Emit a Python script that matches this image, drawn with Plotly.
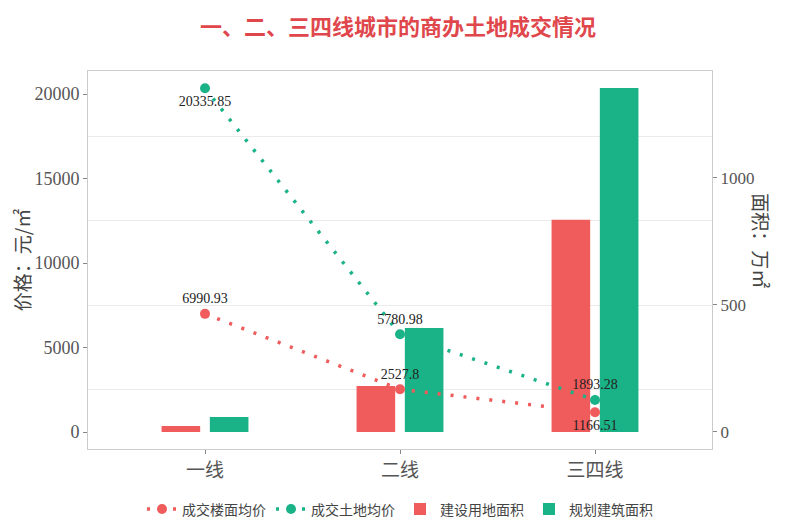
import plotly.graph_objects as go

# city tiers
cities = ["一线", "二线", "三四线"]

# price series (元/㎡), left axis
floor_price = [6990.93, 2527.8, 1166.51]
land_price = [20335.85, 5780.98, 1893.28]

# area series (万㎡), right axis
land_area = [24, 181, 835]
build_area = [59, 409, 1354]

price_ticks = [0, 5000, 10000, 15000, 20000]
area_ticks = [0, 500, 1000]

red = "#F05B5B"
green = "#1AB287"
serif = "Liberation Serif"
cjk = "Noto Sans CJK SC"

fig = go.Figure()

fig.add_trace(go.Scatter(
    x=cities, y=floor_price, name="成交楼面均价", yaxis="y2",
    mode="lines+markers+text",
    line=dict(color=red, width=3.5, dash="3px,10px"),
    marker=dict(color=red, size=10),
    text=[str(v) for v in floor_price],
    textposition=["top center", "top center", "bottom center"],
    textfont=dict(family=serif, size=14, color="#222222"),
))
fig.add_trace(go.Scatter(
    x=cities, y=land_price, name="成交土地均价", yaxis="y2",
    mode="lines+markers+text",
    line=dict(color=green, width=3.5, dash="3px,10px"),
    marker=dict(color=green, size=10),
    text=[str(v) for v in land_price],
    textposition=["bottom center", "top center", "top center"],
    textfont=dict(family=serif, size=14, color="#222222"),
))
fig.add_trace(go.Bar(
    x=cities, y=land_area, name="建设用地面积", yaxis="y",
    marker=dict(color=red, line=dict(width=0)),
))
fig.add_trace(go.Bar(
    x=cities, y=build_area, name="规划建筑面积", yaxis="y",
    marker=dict(color=green, line=dict(width=0)),
))

# page shows the figure with an 8px offset, so it is a bit smaller than the window
fig.update_layout(
    width=780, height=518,
    margin=dict(l=80, r=76, t=63, b=77, autoexpand=False),
    paper_bgcolor="white", plot_bgcolor="white",
    barmode="group", bargap=0.505, bargroupgap=0.2,
    title=dict(
        text="<b>一、二、三四线城市的商办土地成交情况</b>",
        x=0.5, xanchor="center", y=0.962, yanchor="middle",
        font=dict(family=cjk, size=22, color="#E0474C"),
    ),
    xaxis=dict(
        range=[-0.6, 2.6],
        showgrid=False, showline=True, mirror=True, linecolor="#CCCCCC",
        ticks="outside", ticklen=4, tickcolor="#888888", automargin=False,
        tickfont=dict(family=cjk, size=19, color="#555555"),
    ),
    yaxis=dict(
        side="right", range=[-67, 1421], tickvals=area_ticks,
        showgrid=False, zeroline=False, automargin=False,
        ticks="outside", ticklen=4, tickcolor="#888888",
        tickfont=dict(family=serif, size=17, color="#555555"),
    ),
    yaxis2=dict(
        side="left", overlaying="y", range=[-1006, 21361],
        tickvals=price_ticks, tickformat="d", showgrid=False, zeroline=False,
        showline=True, mirror=True, linecolor="#CCCCCC", automargin=False,
        ticks="outside", ticklen=4, tickcolor="#888888",
        tickfont=dict(family=serif, size=18, color="#555555"),
        title=dict(text="价格：元/㎡", font=dict(family=cjk, size=19, color="#444444"), standoff=0),
        minor=dict(tick0=2500, dtick=5000, showgrid=True, gridcolor="#EBEBEB", gridwidth=1, ticklen=0),
    ),
    legend=dict(
        orientation="h", x=0.5, xanchor="center", y=-0.16, yanchor="middle",
        font=dict(family=cjk, size=14, color="#444444"),
        itemwidth=30,
    ),
    annotations=[dict(
        text="面积：万㎡", textangle=90, showarrow=False,
        xref="paper", yref="paper", x=1.08, y=0.55, xanchor="center", yanchor="middle",
        font=dict(family=cjk, size=19, color="#444444"),
    )],
)

fig.write_html("out.html")
